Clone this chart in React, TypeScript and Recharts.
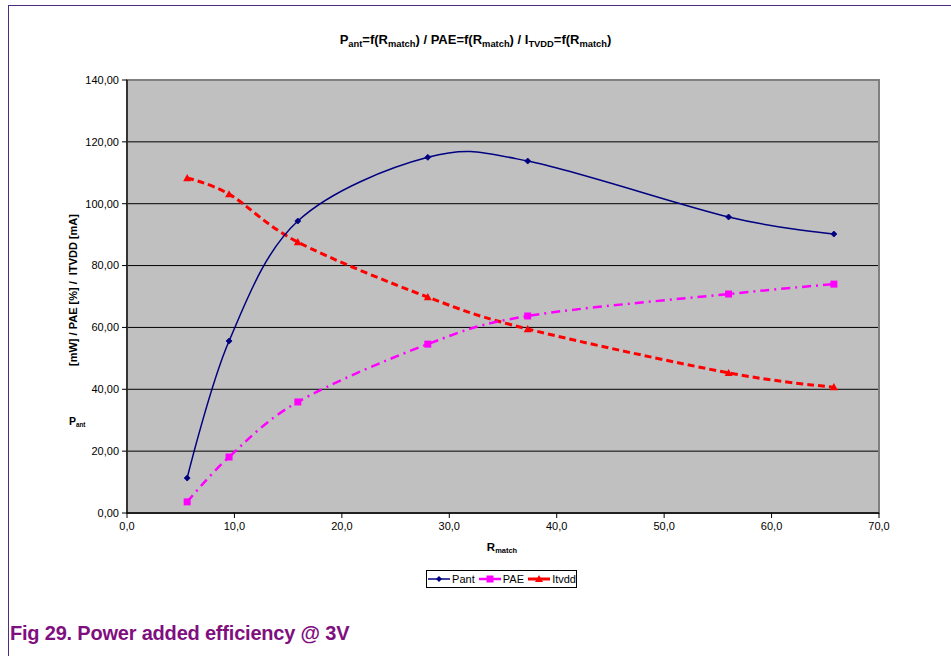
import React from "react";
import { LineChart, Line, XAxis, YAxis, CartesianGrid, ReferenceArea } from "recharts";

const rMatch = [5.6, 9.5, 15.9, 28.0, 37.3, 56.0, 65.8];
const pant = [11.3, 55.6, 94.4, 115.0, 113.8, 95.7, 90.2];
const pae = [3.6, 18.1, 35.9, 54.6, 63.7, 70.8, 74.0];
const itvdd = [108.3, 103.1, 87.6, 69.8, 59.5, 45.3, 40.7];
const xTicks = [0, 10, 20, 30, 40, 50, 60, 70];
const yTicks = [0, 20, 40, 60, 80, 100, 120, 140];

const rows = rMatch.map((r, i) => ({ r, pant: pant[i], pae: pae[i], itvdd: itvdd[i] }));

const FONT = "'Liberation Sans', Arial, sans-serif";
const C_PANT = "#000080";
const C_PAE = "#FF00FF";
const C_ITV = "#FF0000";

// Cardinal (Catmull-Rom like) curve, similar to Excel smoothing
function cardPoint(t: any, x: number, y: number) {
  t._context.bezierCurveTo(
    t._x1 + t._k * (t._x2 - t._x0),
    t._y1 + t._k * (t._y2 - t._y0),
    t._x2 + t._k * (t._x1 - x),
    t._y2 + t._k * (t._y1 - y),
    t._x2,
    t._y2
  );
}
function smoothCurve(context: any) {
  const t: any = {
    _context: context,
    _k: 1 / 6,
    areaStart() { t._line = 0; },
    areaEnd() { t._line = NaN; },
    lineStart() {
      t._x0 = t._x1 = t._x2 = t._y0 = t._y1 = t._y2 = NaN;
      t._point = 0;
    },
    lineEnd() {
      switch (t._point) {
        case 2: t._context.lineTo(t._x2, t._y2); break;
        case 3: cardPoint(t, t._x1, t._y1); break;
      }
      if (t._line || (t._line !== 0 && t._point === 1)) t._context.closePath();
      t._line = 1 - t._line;
    },
    point(x: number, y: number) {
      x = +x; y = +y;
      switch (t._point) {
        case 0: t._point = 1; t._line ? t._context.lineTo(x, y) : t._context.moveTo(x, y); break;
        case 1: t._point = 2; t._x1 = x; t._y1 = y; break;
        case 2: t._point = 3; cardPoint(t, x, y); break;
        default: cardPoint(t, x, y); break;
      }
      t._x0 = t._x1; t._x1 = t._x2; t._x2 = x;
      t._y0 = t._y1; t._y1 = t._y2; t._y2 = y;
    },
  };
  return t;
}

const Diamond = (p: any) => {
  const { cx, cy, index } = p;
  if (cx == null || cy == null) return <g key={`d${index}`} />;
  const s = 3;
  return <path key={`d${index}`} d={`M${cx},${cy - s}L${cx + s},${cy}L${cx},${cy + s}L${cx - s},${cy}Z`} fill={C_PANT} stroke={C_PANT} strokeWidth={0.8} />;
};
const Square = (p: any) => {
  const { cx, cy, index } = p;
  if (cx == null || cy == null) return <g key={`s${index}`} />;
  const s = 3.5;
  return <rect key={`s${index}`} x={cx - s} y={cy - s} width={2 * s} height={2 * s} fill={C_PAE} />;
};
const Tri = (p: any) => {
  const { cx, cy, index } = p;
  if (cx == null || cy == null) return <g key={`t${index}`} />;
  const s = 4;
  return <path key={`t${index}`} d={`M${cx},${cy - s}L${cx + s},${cy + s * 0.8}L${cx - s},${cy + s * 0.8}Z`} fill={C_ITV} />;
};

const fmtY = (v: number) => v.toFixed(2).replace(".", ",");
const fmtX = (v: number) => v.toFixed(1).replace(".", ",");

const subStyle: React.CSSProperties = { fontSize: "0.72em", verticalAlign: "-0.3em" };

function LegendIcon({ color, dash, width, marker }: { color: string; dash?: string; width: number; marker: string }) {
  return (
    <svg width={24} height={10} style={{ verticalAlign: "middle" }}>
      <line x1={1} y1={5} x2={23} y2={5} stroke={color} strokeWidth={width} strokeDasharray={dash} />
      {marker === "d" && <path d="M12,2L15,5L12,8L9,5Z" fill={color} />}
      {marker === "s" && <rect x={8.5} y={1.5} width={7} height={7} fill={color} />}
      {marker === "t" && <path d="M12,1L16,8L8,8Z" fill={color} />}
    </svg>
  );
}

export default function App() {
  return (
    <div style={{ position: "absolute", left: 0, top: 0, width: 951, height: 656, background: "#fff", fontFamily: FONT, overflow: "hidden" }}>
      {/* frame */}
      <div style={{ position: "absolute", left: 8, top: 5, width: 943, height: 0, borderTop: "1.5px solid #4E2C80" }} />
      <div style={{ position: "absolute", left: 8, top: 5, width: 0, height: 660, borderLeft: "1.5px solid #4E2C80" }} />

      <div style={{ position: "absolute", left: 0, top: 0 }}>
        <LineChart width={951} height={656} data={rows} margin={{ top: 80, right: 72, bottom: 113, left: 67 }} style={{ fontFamily: FONT }}>
          <CartesianGrid vertical={false} stroke="#000" strokeOpacity={1} fill="#C0C0C0" fillOpacity={1} />
          <ReferenceArea x1={0} x2={70} y1={0} y2={140} fill="none" stroke="#808080" strokeWidth={2} ifOverflow="visible" />
          <XAxis dataKey="r" type="number" domain={[0, 70]} ticks={xTicks} tickFormatter={fmtX} height={30} tickSize={5} tickMargin={4}
            axisLine={{ stroke: "#000", strokeWidth: 1.5 }} tickLine={{ stroke: "#000" }} tick={{ fontSize: 11, fill: "#000", fontFamily: FONT }} />
          <YAxis type="number" domain={[0, 140]} ticks={yTicks} tickFormatter={fmtY} width={60} tickSize={5} tickMargin={3}
            axisLine={{ stroke: "#000", strokeWidth: 1.2 }} tickLine={{ stroke: "#000" }} tick={{ fontSize: 11, fill: "#000", fontFamily: FONT }} />
          <Line dataKey="itvdd" type={smoothCurve as any} stroke={C_ITV} strokeWidth={3} strokeDasharray="7 4" dot={Tri} activeDot={false} isAnimationActive={false} />
          <Line dataKey="pae" type={smoothCurve as any} stroke={C_PAE} strokeWidth={2.5} strokeDasharray="9 5 2 5" dot={Square} activeDot={false} isAnimationActive={false} />
          <Line dataKey="pant" type={smoothCurve as any} stroke={C_PANT} strokeWidth={1.5} dot={Diamond} activeDot={false} isAnimationActive={false} />
        </LineChart>
      </div>

      {/* title */}
      <div style={{ position: "absolute", left: 0, width: 951, top: 32, textAlign: "center", fontSize: 13, fontWeight: "bold", color: "#000", whiteSpace: "nowrap" }}>
        P<span style={subStyle}>ant</span>=f(R<span style={subStyle}>match</span>) / PAE=f(R<span style={subStyle}>match</span>) / I<span style={subStyle}>TVDD</span>=f(R<span style={subStyle}>match</span>)
      </div>

      {/* y label */}
      <div style={{ position: "absolute", left: 73, top: 290, width: 0, height: 0 }}>
        <div style={{ position: "absolute", left: 0, top: 0, transform: "translate(-50%, -50%) rotate(-90deg)", fontSize: 11, fontWeight: "bold", whiteSpace: "pre" }}>
          {"[mW] / PAE [%] /  ITVDD [mA]"}
        </div>
      </div>
      <div style={{ position: "absolute", left: 69, top: 415, fontSize: 10.5, fontWeight: "bold", whiteSpace: "nowrap" }}>
        P<span style={{ fontSize: "0.6em", verticalAlign: "-0.3em" }}>ant</span>
      </div>

      {/* x label */}
      <div style={{ position: "absolute", left: 452, width: 100, top: 541, textAlign: "center", fontSize: 11.5, fontWeight: "bold", whiteSpace: "nowrap" }}>
        R<span style={{ fontSize: "0.65em", verticalAlign: "-0.3em" }}>match</span>
      </div>

      {/* legend */}
      <div style={{ position: "absolute", left: 426, top: 570, width: 149, height: 16, border: "1px solid #000", fontSize: 11, display: "flex", alignItems: "center", whiteSpace: "nowrap", boxSizing: "content-box" }}>
        <LegendIcon color={C_PANT} width={1.5} marker="d" />
        <span style={{ marginLeft: 2, marginRight: 3 }}>Pant</span>
        <LegendIcon color={C_PAE} width={2.5} marker="s" />
        <span style={{ marginLeft: 2, marginRight: 3 }}>PAE</span>
        <LegendIcon color={C_ITV} width={3} marker="t" />
        <span style={{ marginLeft: 2 }}>Itvdd</span>
      </div>

      {/* caption */}
      <div style={{ position: "absolute", left: 10, top: 622, fontSize: 20, fontWeight: "bold", color: "#7F0F7F", whiteSpace: "nowrap", letterSpacing: -0.2 }}>
        Fig 29. Power added efficiency @ 3V
      </div>
    </div>
  );
}
